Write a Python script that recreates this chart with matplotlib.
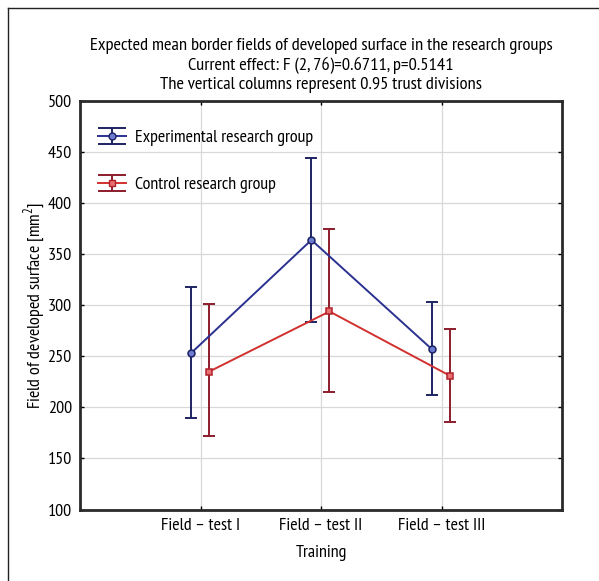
import numpy as np
import matplotlib
matplotlib.use('Agg')
import matplotlib.pyplot as plt
from matplotlib.lines import Line2D
from matplotlib.path import Path
from matplotlib.legend_handler import HandlerTuple

plt.rcParams['font.family'] = ['PT Sans Narrow', 'DejaVu Sans']
plt.rcParams['mathtext.fontset'] = 'custom'
plt.rcParams['mathtext.rm'] = 'PT Sans Narrow'

# data
tests = ['Field – test I', 'Field – test II', 'Field – test III']
exp_mean = [253, 364, 257]
exp_low = [190, 284, 212]
exp_high = [318, 444, 303]
ctrl_mean = [235, 294, 231]
ctrl_low = [172, 215, 186]
ctrl_high = [301, 375, 277]

x = np.arange(1, len(tests) + 1)

fig = plt.figure(figsize=(5.99, 5.81), dpi=100)
ax = fig.add_axes([0.1336, 0.123, 0.8047, 0.703])

blue_line = '#2b3190'
blue_err = '#1d2262'
blue_face = '#6d7bd0'
red_line = '#d2302f'
red_err = '#8c1c2c'
red_face = '#e87070'

# experimental group
ax.errorbar(x - 0.08, exp_mean,
            yerr=[np.array(exp_mean) - exp_low, np.array(exp_high) - exp_mean],
            fmt='none', ecolor=blue_err, elinewidth=1.4, capsize=4, capthick=1.4, zorder=3)
ax.plot(x - 0.08, exp_mean, color=blue_line, lw=1.4, marker='o', ms=5,
        mfc=blue_face, mec=blue_err, mew=1.1, zorder=4)

# control group
ax.errorbar(x + 0.07, ctrl_mean,
            yerr=[np.array(ctrl_mean) - ctrl_low, np.array(ctrl_high) - ctrl_mean],
            fmt='none', ecolor=red_err, elinewidth=1.4, capsize=4, capthick=1.4, zorder=3)
ax.plot(x + 0.07, ctrl_mean, color=red_line, lw=1.4, marker='s', ms=5,
        mfc=red_face, mec='#b0222a', mew=1.1, zorder=4)

ax.set_xlim(0, 4)
ax.set_ylim(100, 500)
ax.set_xticks(x)
ax.set_xticklabels(tests, fontsize=13)
ax.set_yticks(np.arange(100, 501, 50))
ax.tick_params(axis='y', labelsize=13)
ax.tick_params(direction='in', length=3, width=1, top=True, right=True, pad=6)
ax.grid(True, color='#d8d8d8', lw=0.9)
ax.set_axisbelow(True)
for s in ax.spines.values():
    s.set_linewidth(2)
    s.set_color('#2a2a2a')

ax.set_xlabel('Training', fontsize=13, labelpad=8)
ax.set_ylabel('Field of developed surface [mm$^2$]', fontsize=13, labelpad=0)
ax.set_title('Expected mean border fields of developed surface in the research groups\n'
             'Current effect: F (2, 76)=0.6711, p=0.5141\n'
             'The vertical columns represent 0.95 trust divisions',
             fontsize=13.3, linespacing=1.2, pad=9)

# legend: I-beam style handle (caps + stem) with the line and marker
ibeam = Path([(-1, 0.6), (1, 0.6), (-1, -0.6), (1, -0.6), (0, -0.6), (0, 0.6)],
             [Path.MOVETO, Path.LINETO, Path.MOVETO, Path.LINETO, Path.MOVETO, Path.LINETO])
b_beam = Line2D([], [], ls='none', marker=ibeam, ms=20, mfc='none', mec=blue_err, mew=1.4)
b_line = Line2D([], [], color=blue_line, lw=1.4, marker='o', ms=5, mfc=blue_face, mec=blue_err)
r_beam = Line2D([], [], ls='none', marker=ibeam, ms=20, mfc='none', mec=red_err, mew=1.4)
r_line = Line2D([], [], color=red_line, lw=1.4, marker='s', ms=5, mfc=red_face, mec='#b0222a')
ax.legend([(b_beam, b_line), (r_beam, r_line)],
          ['Experimental research group', 'Control research group'],
          handler_map={tuple: HandlerTuple(ndivide=1)},
          loc='upper left', bbox_to_anchor=(0.0, 0.975), frameon=False, fontsize=13,
          labelspacing=1.7, handlelength=1.55, handletextpad=0.5, borderaxespad=0.6)

# outer frame (left and top edges visible)
fig.add_artist(Line2D([8 / 599, 8 / 599], [0, 1 - 8 / 581], color='#222222', lw=1))
fig.add_artist(Line2D([8 / 599, 1], [1 - 8 / 581, 1 - 8 / 581], color='#222222', lw=1))

fig.savefig('out.png', dpi=100)
